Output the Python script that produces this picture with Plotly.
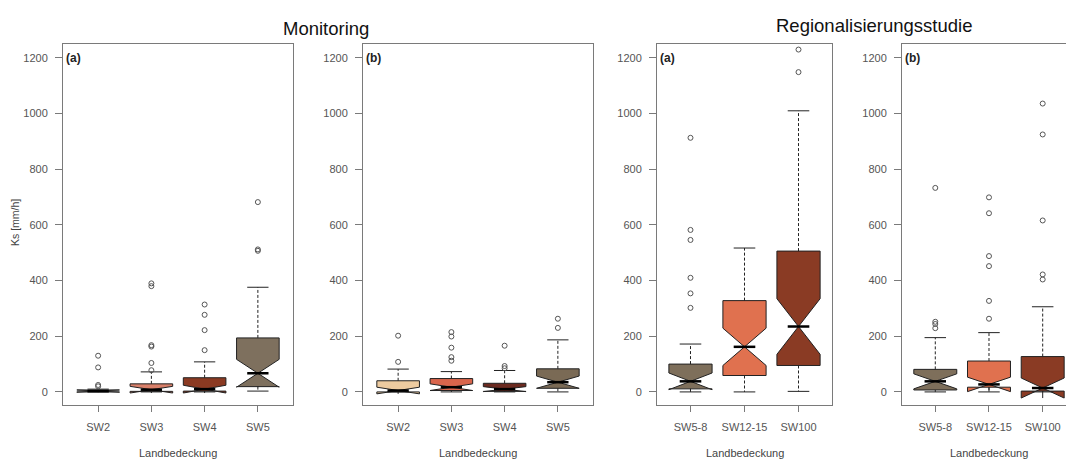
import plotly.graph_objects as go

# ---------------- data ----------------
mon_cats = ["SW2", "SW3", "SW4", "SW5"]
reg_cats = ["SW5-8", "SW12-15", "SW100"]

# Monitoring (a)
p1_q1 = [0, 2, 3, 19]
p1_med = [3, 8, 10, 67]
p1_q3 = [7, 29, 51, 194]
p1_lo = [0, 0, 0, 3]
p1_hi = [10, 72, 108, 376]
p1_notch = [4, 12, 14, 50]
p1_out = [[130, 88, 25, 20], [390, 380, 168, 163, 104, 78], [314, 277, 222, 150], [682, 512, 507]]

# Monitoring (b)
p2_q1 = [0, 5, 2, 13]
p2_med = [5, 17, 10, 35]
p2_q3 = [40, 48, 31, 83]
p2_lo = [0, 0, 0, 0]
p2_hi = [82, 73, 77, 187]
p2_notch = [12, 12, 9, 22]
p2_out = [[202, 108], [215, 199, 159, 125, 112], [166, 93, 85], [263, 230]]

# Regionalisierungsstudie (a)
p3_q1 = [11, 59, 95]
p3_med = [38, 162, 235]
p3_q3 = [100, 328, 506]
p3_lo = [0, 0, 2]
p3_hi = [172, 517, 1010]
p3_notch = [30, 67, 100]
p3_out = [[913, 582, 546, 410, 354, 302], [], [1230, 1149]]

# Regionalisierungsstudie (b)
p4_q1 = [7, 17, 3]
p4_med = [38, 27, 14]
p4_q3 = [81, 111, 127]
p4_lo = [0, 0, 0]
p4_hi = [195, 213, 306]
p4_notch = [27, 26, 36]
p4_out = [[733, 252, 244, 229], [699, 642, 488, 452, 327, 263], [1036, 925, 616, 422, 404]]

p1_colors = ["#C9A27C", "#D9806A", "#8B3A22", "#7E705E"]
p2_colors = ["#EDCBA0", "#D9654C", "#6B2A20", "#7A6A55"]
reg_colors = ["#7E6F5B", "#E0714F", "#8A3B24"]

y_ticks = [0, 200, 400, 600, 800, 1000, 1200]

# ---------------- layout geometry ----------------
W, H = 1066, 461
BOXW = 0.8
NOTCHW = 0.5
top_px, bot_px = 44, 405
ydom = [(H - bot_px) / H, (H - top_px) / H]

panels = [
    dict(cats=mon_cats, q1=p1_q1, med=p1_med, q3=p1_q3, lo=p1_lo, hi=p1_hi, notch=p1_notch,
         out=p1_out, colors=p1_colors, dom=[63 / W, 293 / W], xr=[0.34, 4.66], label="(a)"),
    dict(cats=mon_cats, q1=p2_q1, med=p2_med, q3=p2_q3, lo=p2_lo, hi=p2_hi, notch=p2_notch,
         out=p2_out, colors=p2_colors, dom=[363 / W, 593 / W], xr=[0.34, 4.66], label="(b)"),
    dict(cats=reg_cats, q1=p3_q1, med=p3_med, q3=p3_q3, lo=p3_lo, hi=p3_hi, notch=p3_notch,
         out=p3_out, colors=reg_colors, dom=[657 / W, 832 / W], xr=[0.38, 3.62], label="(a)"),
    dict(cats=reg_cats, q1=p4_q1, med=p4_med, q3=p4_q3, lo=p4_lo, hi=p4_hi, notch=p4_notch,
         out=p4_out, colors=reg_colors, dom=[902 / W, 1.0], xr=[0.38, 0.38 + 164 / 53.7], label="(b)"),
]

fig = go.Figure()
FRAME = "#7a7a7a"
FAM = "Liberation Sans, Arial, sans-serif"
TICKFONT = dict(family=FAM, size=11, color="#555555")

for i, p in enumerate(panels):
    n = i + 1
    xa = "x" if n == 1 else f"x{n}"
    ya = "y" if n == 1 else f"y{n}"
    pos = list(range(1, len(p["cats"]) + 1))
    # boxes
    for j, c in enumerate(p["cats"]):
        fig.add_trace(go.Box(
            x=[pos[j]], q1=[p["q1"][j]], median=[p["med"][j]], q3=[p["q3"][j]],
            lowerfence=[p["q1"][j]], upperfence=[p["q3"][j]], notchspan=[p["notch"][j]],
            notched=True, notchwidth=NOTCHW, width=BOXW, whiskerwidth=0,
            fillcolor=p["colors"][j], line=dict(color="#222222", width=1),
            boxpoints=False, xaxis=xa, yaxis=ya, showlegend=False, hoverinfo="skip"))
    # dashed whiskers, staples, thick medians
    wx, wy = [], []
    sx, sy = [], []
    mx, my = [], []
    for j in range(len(pos)):
        wx += [pos[j], pos[j], None, pos[j], pos[j], None]
        wy += [p["q3"][j], p["hi"][j], None, p["q1"][j], p["lo"][j], None]
        sx += [pos[j] - BOXW / 4, pos[j] + BOXW / 4, None, pos[j] - BOXW / 4, pos[j] + BOXW / 4, None]
        sy += [p["hi"][j], p["hi"][j], None, p["lo"][j], p["lo"][j], None]
        hw = BOXW / 2 * (1 - NOTCHW)
        mx += [pos[j] - hw, pos[j] + hw, None]
        my += [p["med"][j], p["med"][j], None]
    fig.add_trace(go.Scatter(x=wx, y=wy, mode="lines", line=dict(color="#222222", width=1, dash="3px,2px"),
                             xaxis=xa, yaxis=ya, showlegend=False, hoverinfo="skip"))
    fig.add_trace(go.Scatter(x=sx, y=sy, mode="lines", line=dict(color="#222222", width=1),
                             xaxis=xa, yaxis=ya, showlegend=False, hoverinfo="skip"))
    fig.add_trace(go.Scatter(x=mx, y=my, mode="lines", line=dict(color="#000000", width=2.5),
                             xaxis=xa, yaxis=ya, showlegend=False, hoverinfo="skip"))
    ox, oy = [], []
    for j in range(len(pos)):
        for v in p["out"][j]:
            ox.append(pos[j])
            oy.append(v)
    fig.add_trace(go.Scatter(x=ox, y=oy, mode="markers",
                             marker=dict(symbol="circle-open", size=5, color="#555555", line=dict(width=1)),
                             xaxis=xa, yaxis=ya, showlegend=False, hoverinfo="skip"))

    xkey = "xaxis" if n == 1 else f"xaxis{n}"
    ykey = "yaxis" if n == 1 else f"yaxis{n}"
    fig.update_layout(**{
        xkey: dict(domain=p["dom"], range=p["xr"], anchor=ya, tickmode="array", tickvals=pos,
                   ticktext=p["cats"], ticks="outside", ticklen=6, tickcolor=FRAME,
                   showline=True, linecolor=FRAME, linewidth=1, mirror=True,
                   showgrid=False, zeroline=False, tickfont=TICKFONT, ticklabelstandoff=6,
                   fixedrange=True),
        ykey: dict(domain=ydom, range=[-47, 1250], anchor=xa, tickmode="array", tickvals=y_ticks,
                   ticks="outside", ticklen=7, tickcolor=FRAME,
                   showline=True, linecolor=FRAME, linewidth=1, mirror=(n != 4),
                   showgrid=False, zeroline=False, tickfont=TICKFONT, ticklabelstandoff=5,
                   fixedrange=True),
    })
    # panel label
    fig.add_annotation(text="<b>" + p["label"] + "</b>", xref=f"{xa} domain", yref="paper",
                       x=0.005, y=(H - 58) / H, xanchor="left", yanchor="middle", showarrow=False,
                       font=dict(family=FAM, size=12, color="#222222"))
    # x axis title
    cx = (p["dom"][0] + p["dom"][1]) / 2 if n != 4 else (902 + 87) / W
    fig.add_annotation(text="Landbedeckung", xref="paper", yref="paper", x=cx, y=(H - 453) / H,
                       xanchor="center", yanchor="middle", showarrow=False,
                       font=dict(family=FAM, size=11, color="#444444"))

# y axis title
fig.add_annotation(text="Ks [mm/h]", xref="paper", yref="paper", x=15 / W, y=(H - 223) / H,
                   xanchor="center", yanchor="middle", textangle=-90, showarrow=False,
                   font=dict(family=FAM, size=10.5, color="#444444"))
# group titles
fig.add_annotation(text="Monitoring", xref="paper", yref="paper", x=326 / W, y=(H - 28) / H,
                   xanchor="center", yanchor="middle", showarrow=False,
                   font=dict(family=FAM, size=18.5, color="#111111"))
fig.add_annotation(text="Regionalisierungsstudie", xref="paper", yref="paper", x=874 / W, y=(H - 25) / H,
                   xanchor="center", yanchor="middle", showarrow=False,
                   font=dict(family=FAM, size=18.5, color="#111111"))

fig.update_layout(width=W, height=H, margin=dict(l=0, r=0, t=0, b=0),
                  paper_bgcolor="white", plot_bgcolor="white", showlegend=False)

fig.write_html("out.html", config={"displayModeBar": False},
               post_script="document.body.style.margin='0';document.body.style.overflow='hidden';")
